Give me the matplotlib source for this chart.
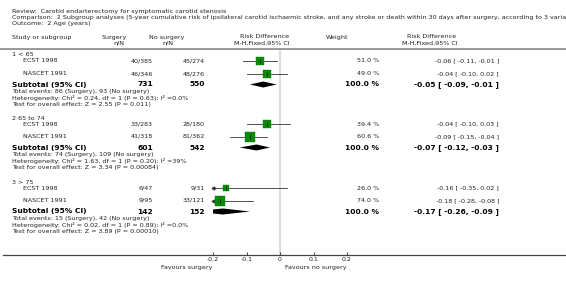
import matplotlib.pyplot as plt
from matplotlib.lines import Line2D
import numpy as np

plt.rcParams['font.family'] = 'DejaVu Sans'
plt.rcParams['axes.unicode_minus'] = False

W, H = 566, 285

# study data
groups = ['1 < 65', '2 65 to 74', '3 > 75']
studies = ['ECST 1998', 'NASCET 1991']
surgery_nN = [['40/385', '46/346'], ['33/283', '41/318'], ['6/47', '9/95']]
nosurg_nN = [['45/274', '48/276'], ['28/180', '81/362'], ['9/31', '33/121']]
weights = [[51.0, 49.0], [39.4, 60.6], [26.0, 74.0]]
rd = [[-0.06, -0.04], [-0.04, -0.09], [-0.16, -0.18]]
rd_lo = [[-0.11, -0.10], [-0.10, -0.15], [-0.35, -0.28]]
rd_hi = [[-0.01, 0.02], [0.03, -0.04], [0.02, -0.08]]

sub_surg = [731, 601, 142]
sub_nosurg = [550, 542, 152]
sub_rd = [-0.05, -0.07, -0.17]
sub_lo = [-0.09, -0.12, -0.26]
sub_hi = [-0.01, -0.03, -0.09]

events = ['Total events: 86 (Surgery), 93 (No surgery)',
          'Total events: 74 (Surgery), 109 (No surgery)',
          'Total events: 15 (Surgery), 42 (No surgery)']
hetero = ['Heterogeneity: Chi² = 0.24, df = 1 (P = 0.63); I² =0.0%',
          'Heterogeneity: Chi² = 1.63, df = 1 (P = 0.20); I² =39%',
          'Heterogeneity: Chi² = 0.02, df = 1 (P = 0.89); I² =0.0%']
overall = ['Test for overall effect: Z = 2.55 (P = 0.011)',
           'Test for overall effect: Z = 3.34 (P = 0.00084)',
           'Test for overall effect: Z = 3.89 (P = 0.00010)']

ticks = [-0.2, -0.1, 0, 0.1, 0.2]
tick_labels = ['-0.2', '-0.1', '0', '0.1', '0.2']
xmin, xmax = -0.2, 0.2

fig = plt.figure(figsize=(W / 100, H / 100), dpi=100)

TXT = '#222222'
FS = 4.6
FSB = 5.4


def ftext(x, y, s, **kw):
    kw.setdefault('fontsize', FS)
    kw.setdefault('color', TXT)
    kw.setdefault('va', 'center')
    fig.text(x / W, 1 - y / H, s, **kw)


# header
ftext(12, 11, 'Review:  Carotid endarterectomy for symptomatic carotid stenosis')
ftext(12, 17, 'Comparison:  2 Subgroup analyses (5-year cumulative risk of ipsilateral carotid ischaemic stroke, '
      'and any stroke or death within 30 days after surgery, according to 3 variables)')
ftext(12, 23, 'Outcome:  2 Age (years)')
ftext(12, 37, 'Study or subgroup')
ftext(114, 37, 'Surgery', ha='center')
ftext(119, 43, 'n/N', ha='center')
ftext(167, 37, 'No surgery', ha='center')
ftext(168, 43, 'n/N', ha='center')
ftext(265, 37, 'Risk Difference', ha='center')
ftext(262, 43, 'M-H,Fixed,95% CI', ha='center')
ftext(337, 37, 'Weight', ha='center')
ftext(432, 37, 'Risk Difference', ha='center')
ftext(430, 43, 'M-H,Fixed,95% CI', ha='center')
fig.add_artist(Line2D([0, 1], [1 - 48.5 / H, 1 - 48.5 / H], color='#888888', lw=1.2))

# forest axes: y in pixel rows
top, bot = 48.5, 255
ax = fig.add_axes([213 / W, 1 - bot / H, 134 / W, (bot - top) / H])
ax.set_xlim(xmin, xmax)
ax.set_ylim(bot, top)
for s in ax.spines.values():
    s.set_visible(False)
ax.set_yticks([])
ax.set_xticks(ticks, tick_labels)
ax.tick_params(axis='x', direction='in', length=2.5, width=0.6, labelsize=4.5,
               pad=1.5, colors=TXT)
ax.patch.set_alpha(0)
ax.axvline(0, color='#dddddd', lw=1.5, zorder=0)
fig.add_artist(Line2D([3 / W, 1], [1 - bot / H, 1 - bot / H], color='#444444', lw=0.9))

group_start = [55, 118, 182]
for g in range(3):
    y0 = group_start[g]
    ftext(12, y0, groups[g])
    for i in range(2):
        y = y0 + 6 + 12.5 * i
        ftext(23, y, studies[i])
        ftext(153, y, surgery_nN[g][i], ha='right')
        ftext(205, y, nosurg_nN[g][i], ha='right')
        ftext(379, y, '%.1f %%' % weights[g][i], ha='right')
        ftext(499, y, '%.2f [ %.2f, %.2f ]' % (rd[g][i], rd_lo[g][i], rd_hi[g][i]), ha='right')
        lo = max(rd_lo[g][i], xmin)
        hi = min(rd_hi[g][i], xmax)
        ax.plot([lo, hi], [y, y], color='#333333', lw=0.6, zorder=2)
        if rd_lo[g][i] < xmin:
            ax.plot([xmin], [y], marker='<', ms=2, color='#333333', clip_on=False, zorder=2)
        side = 1.26 * np.sqrt(weights[g][i]) * 0.72
        ax.plot([rd[g][i]], [y], marker='s', ms=side, color='#0a8a0a', mec='#0a7a0a',
                mew=0.3, zorder=3)
        ax.plot([rd[g][i]], [y], marker='|', ms=2.5, color='black', mew=0.5, zorder=4)
    ys = y0 + 29.5
    ftext(12, ys, 'Subtotal (95% CI)', fontsize=FSB, weight='bold', color='black')
    ftext(153, ys, str(sub_surg[g]), ha='right', fontsize=FSB, weight='bold', color='black')
    ftext(205, ys, str(sub_nosurg[g]), ha='right', fontsize=FSB, weight='bold', color='black')
    ftext(379, ys, '100.0 %', ha='right', fontsize=FSB, weight='bold', color='black')
    ftext(499, ys, '%.2f [ %.2f, %.2f ]' % (sub_rd[g], sub_lo[g], sub_hi[g]), ha='right',
          fontsize=FSB, weight='bold', color='black')
    dh = 3.0
    ax.fill([sub_lo[g], sub_rd[g], sub_hi[g], sub_rd[g]], [ys, ys - dh, ys, ys + dh],
            color='black', lw=0, zorder=3)
    ftext(12, ys + 7, events[g])
    ftext(12, ys + 13.5, hetero[g])
    ftext(12, ys + 20, overall[g])

ftext(187, 267, 'Favours surgery', ha='center', fontsize=4.6)
ftext(316, 267, 'Favours no surgery', ha='center', fontsize=4.6)

fig.savefig('out.png', dpi=100)
